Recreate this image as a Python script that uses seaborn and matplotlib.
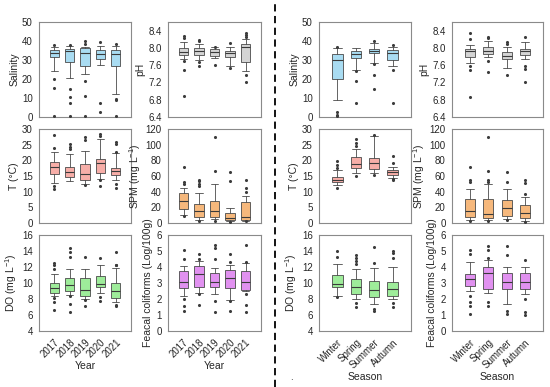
import matplotlib
matplotlib.use("Agg")
import matplotlib.pyplot as plt
from matplotlib.lines import Line2D
import seaborn as sns
import pandas as pd

# ---------------- data ----------------
years = ["2017", "2018", "2019", "2020", "2021"]
seasons = ["Winter", "Spring", "Summer", "Autumn"]

# each box: [lower whisker, Q1, median, Q3, upper whisker]
sal_year_box = [[24.4, 31.6, 33.7, 35.1, 36.7], [20.5, 29.0, 34.6, 35.8, 37.2],
                [22.8, 26.7, 33.7, 36.1, 37.0], [27.5, 30.5, 33.3, 35.4, 37.5],
                [12.1, 27.0, 33.3, 35.4, 37.2]]
sal_year_out = [[37.7, 20.2, 15.3, 0.7], [38.0, 14.7, 10.5, 7.2, 0.4],
                [39.8, 38.3, 18.8, 11.2, 0.4], [39.3, 7.4, 2.6], [38.4, 9.5, 8.8, 0.4]]

ph_year_box = [[7.75, 7.83, 7.91, 8.00, 8.14], [7.71, 7.83, 7.92, 8.00, 8.09],
               [7.77, 7.81, 7.91, 7.98, 8.01], [7.57, 7.78, 7.88, 7.92, 8.01],
               [7.46, 7.67, 8.01, 8.09, 8.21]]
ph_year_out = [[8.28, 8.23, 7.69, 7.50, 6.89], [8.19, 8.15, 7.67, 7.57],
               [8.03, 7.60], [8.11, 7.53], [8.35, 8.29, 8.25, 7.38, 7.21]]

t_year_box = [[12.7, 15.7, 17.8, 19.4, 22.5], [13.4, 14.6, 16.2, 18.0, 22.0],
              [12.5, 13.8, 15.6, 18.8, 23.0], [14.1, 15.9, 19.1, 20.4, 26.7],
              [13.6, 15.4, 16.6, 17.7, 22.3]]
t_year_out = [[28.1, 23.9, 11.7, 10.9], [25.1, 24.4, 23.6], [27.3, 26.5, 12.1],
              [28.3, 27.8, 13.6, 11.7], [25.8, 25.1, 22.8, 12.3, 11.2]]

spm_year_box = [[10.3, 18.1, 28.4, 37.8, 44.8], [4.1, 7.8, 15.2, 24.7, 38.6],
                [4.9, 7.8, 15.2, 28.4, 50.1], [2.9, 4.1, 7.0, 13.2, 19.3],
                [2.9, 4.1, 7.8, 26.7, 34.9]]
spm_year_out = [[71.5, 52.2, 49.3, 9.0], [55.0, 53.0, 50.0, 47.0, 2.9],
                [109.7, 66.6, 2.9], [64.5, 53.0, 1.6], [55.0, 44.8, 39.9, 2.0]]

do_year_box = [[8.35, 8.7, 9.4, 10.0, 11.1], [8.5, 9.0, 9.7, 10.65, 11.8],
               [8.06, 8.4, 9.1, 10.65, 11.8], [8.7, 9.5, 9.9, 10.9, 12.2],
               [7.6, 8.1, 9.0, 10.0, 11.9]]
do_year_out = [[12.45, 12.2, 11.8, 8.1, 7.6, 6.6], [14.4, 13.9, 13.3, 8.4, 7.4, 6.4],
               [13.2, 7.85, 7.1], [13.1, 8.3, 7.7], [13.9, 12.3, 12.2, 7.3, 7.1]]

fc_year_box = [[2.17, 2.66, 3.09, 3.72, 4.09], [2.38, 2.72, 3.55, 4.04, 4.4],
               [2.34, 2.77, 3.09, 3.62, 3.94], [1.96, 2.66, 3.3, 3.79, 4.15],
               [2.49, 2.55, 3.09, 3.77, 4.26]]
fc_year_out = [[5.06, 4.5, 2.0, 1.57, 1.23], [4.79, 4.5, 2.3, 1.6],
               [5.4, 5.2, 4.47, 1.87, 1.17], [4.79, 4.3, 1.85, 1.23],
               [5.38, 4.3, 2.34, 1.6, 1.17]]

sal_season_box = [[8.8, 20.2, 30.2, 33.2, 36.3], [24.6, 31.1, 33.2, 34.6, 36.3],
                  [28.4, 33.7, 34.9, 36.0, 38.9], [26.7, 30.2, 33.7, 35.4, 36.7]]
sal_season_out = [[36.8, 2.6, 1.2, 0.4], [24.0, 18.8, 7.4],
                  [39.8, 27.8, 22.3, 14.9], [38.0, 24.9, 7.4]]

ph_season_box = [[7.64, 7.78, 7.92, 7.97, 8.07], [7.78, 7.86, 7.93, 8.01, 8.17],
                 [7.53, 7.74, 7.82, 7.90, 8.01], [7.74, 7.83, 7.92, 7.97, 8.13]]
ph_season_out = [[8.34, 8.21, 7.57, 7.49, 6.87], [8.26, 8.22, 7.70, 7.45],
                 [8.13, 8.09, 7.38], [8.26, 7.59, 7.51, 7.20]]

t_season_box = [[12.0, 13.0, 13.8, 14.6, 16.8], [15.9, 17.7, 18.8, 21.1, 23.6],
                [15.9, 17.3, 19.3, 20.7, 27.9], [14.5, 15.4, 16.2, 17.0, 18.0]]
t_season_out = [[19.8, 18.6, 17.5, 11.3], [26.8, 25.5, 24.7, 15.1],
                [28.1, 15.2], [21.4, 19.1, 14.0, 13.6]]

spm_season_box = [[3.8, 8.0, 15.6, 30.3, 43.8], [3.8, 6.3, 11.4, 30.3, 50.1],
                  [5.1, 8.4, 18.9, 29.1, 43.8], [2.9, 6.3, 12.6, 22.7, 33.3]]
spm_season_out = [[71.2, 54.7, 52.2, 2.9], [110.3, 66.1, 54.7, 52.2, 2.9],
                  [65.3, 52.6, 4.2], [54.7, 51.4, 37.5, 1.7]]

do_season_box = [[8.4, 9.47, 9.9, 11.05, 12.33], [8.06, 8.62, 9.47, 10.54, 11.7],
                 [7.33, 8.27, 9.13, 10.3, 11.9], [7.97, 8.4, 9.26, 10.1, 12.0]]
do_season_out = [[13.96, 13.2, 8.2], [13.5, 13.1, 12.76, 12.4, 7.55, 7.03],
                 [14.47, 12.46, 6.7, 6.48], [14.04, 13.74, 13.1, 7.55, 7.0]]

fc_season_box = [[2.53, 2.8, 3.22, 3.58, 4.32], [2.38, 2.63, 3.64, 4.0, 4.44],
                 [1.68, 2.63, 3.05, 3.64, 4.02], [2.32, 2.63, 3.05, 3.64, 4.02]]
fc_season_out = [[5.05, 4.8, 2.17, 1.81, 1.58, 1.07], [5.33, 5.07, 4.57, 1.83, 1.58],
                 [5.33, 4.74, 1.22, 1.07], [4.44, 2.0, 1.16, 1.0]]

# ---------------- style ----------------
sns.set_style("white")
plt.rcParams["font.family"] = ["Liberation Sans", "DejaVu Sans"]
plt.rcParams["mathtext.fontset"] = "custom"
plt.rcParams["mathtext.rm"] = "Liberation Sans"
plt.rcParams["mathtext.it"] = "Liberation Sans:italic"

C_SAL = "#a9dcf2"
C_PH = "#d4d4d4"
C_T = "#f7aea8"
C_SPM = "#f6b87c"
C_DO = "#9eec9a"
C_FC = "#e191f0"
EDGE = "#4a4a4a"
FRAME = "#8a8a8a"

fig = plt.figure(figsize=(5.5, 3.87), dpi=100)

W, H = 550.0, 387.0
cols_px = [(39, 131), (168, 261), (319, 411), (452, 543)]
rows_px = [(22, 117), (129, 223), (235, 331)]


def make_ax(c, r):
    x0, x1 = cols_px[c]
    y0, y1 = rows_px[r]
    return fig.add_axes([x0 / W, 1 - y1 / H, (x1 - x0) / W, (y1 - y0) / H])


def panel(ax, boxes, outs, cats, color, ylim, yticks, ylabel, fmt, bottom, xlabel, width):
    stats = [dict(whislo=b[0], q1=b[1], med=b[2], q3=b[3], whishi=b[4], fliers=[])
             for b in boxes]
    pos = list(range(len(cats)))
    ax.bxp(stats, positions=pos, widths=width, capwidths=width * 0.8,
           patch_artist=True, showfliers=False,
           boxprops=dict(facecolor=color, edgecolor=EDGE, linewidth=0.6),
           medianprops=dict(color="#3a3a3a", linewidth=0.8),
           whiskerprops=dict(color=EDGE, linewidth=0.6),
           capprops=dict(color=EDGE, linewidth=0.6))
    df = pd.DataFrame([(i, v) for i, o in enumerate(outs) for v in o],
                      columns=["pos", "val"])
    sns.scatterplot(data=df, x="pos", y="val", ax=ax, color="#3c3c3c", s=5,
                    linewidth=0, zorder=4, legend=False)
    ax.set_xlim(-1, len(cats))
    ax.set_ylim(*ylim)
    ax.set_yticks(yticks)
    ax.set_yticklabels([fmt.format(v) for v in yticks])
    ax.set_xticks(pos)
    if bottom:
        ax.set_xticklabels(cats, rotation=45, ha="right", rotation_mode="anchor")
        ax.set_xlabel(xlabel, fontsize=7.5, labelpad=1)
    else:
        ax.set_xticklabels([])
        ax.set_xlabel("")
    ax.set_ylabel(ylabel, fontsize=7.5, labelpad=2)
    for s in ax.spines.values():
        s.set_color(FRAME)
        s.set_linewidth(0.8)
    ax.tick_params(axis="both", direction="out", length=3, width=0.6,
                   color=FRAME, labelsize=7, pad=1.5)


spec_year = [
    (0, 0, sal_year_box, sal_year_out, C_SAL, (0, 50), [0, 10, 20, 30, 40, 50], "Salinity", "{:.0f}"),
    (1, 0, ph_year_box, ph_year_out, C_PH, (6.4, 8.6), [6.4, 6.8, 7.2, 7.6, 8.0, 8.4], "pH", "{:.1f}"),
    (0, 1, t_year_box, t_year_out, C_T, (0, 30), [0, 5, 10, 15, 20, 25, 30], "T (°C)", "{:.0f}"),
    (1, 1, spm_year_box, spm_year_out, C_SPM, (0, 120), [0, 20, 40, 60, 80, 100, 120], r"SPM (mg L$^{-1}$)", "{:.0f}"),
    (0, 2, do_year_box, do_year_out, C_DO, (4, 16), [4, 6, 8, 10, 12, 14, 16], r"DO (mg L$^{-1}$)", "{:.0f}"),
    (1, 2, fc_year_box, fc_year_out, C_FC, (0, 6), [0, 1, 2, 3, 4, 5, 6], "Feacal coliforms (Log/100g)", "{:.0f}"),
]
spec_season = [
    (2, 0, sal_season_box, sal_season_out, C_SAL, (0, 50), [0, 10, 20, 30, 40, 50], "Salinity", "{:.0f}"),
    (3, 0, ph_season_box, ph_season_out, C_PH, (6.4, 8.6), [6.4, 6.8, 7.2, 7.6, 8.0, 8.4], "pH", "{:.1f}"),
    (2, 1, t_season_box, t_season_out, C_T, (0, 30), [0, 5, 10, 15, 20, 25, 30], "T (°C)", "{:.0f}"),
    (3, 1, spm_season_box, spm_season_out, C_SPM, (0, 120), [0, 20, 40, 60, 80, 100, 120], r"SPM (mg L$^{-1}$)", "{:.0f}"),
    (2, 2, do_season_box, do_season_out, C_DO, (4, 16), [4, 6, 8, 10, 12, 14, 16], r"DO (mg L$^{-1}$)", "{:.0f}"),
    (3, 2, fc_season_box, fc_season_out, C_FC, (0, 6), [0, 1, 2, 3, 4, 5, 6], "Feacal coliforms (Log/100g)", "{:.0f}"),
]

for (c, r, bx, ot, col, yl, yt, lab, fmt) in spec_year:
    ax = make_ax(c, r)
    panel(ax, bx, ot, years, col, yl, yt, lab, fmt, r == 2, "Year", 0.6)
for (c, r, bx, ot, col, yl, yt, lab, fmt) in spec_season:
    ax = make_ax(c, r)
    panel(ax, bx, ot, seasons, col, yl, yt, lab, fmt, r == 2, "Season", 0.56)

# dashed separator
fig.add_artist(Line2D([275 / W, 275 / W], [0, 1], transform=fig.transFigure,
                      color="black", linewidth=1.3, linestyle=(0, (4, 2.5))))
fig.text(290 / W, 1 - 380 / H, ".", fontsize=7)

fig.savefig("out.png", dpi=100)
